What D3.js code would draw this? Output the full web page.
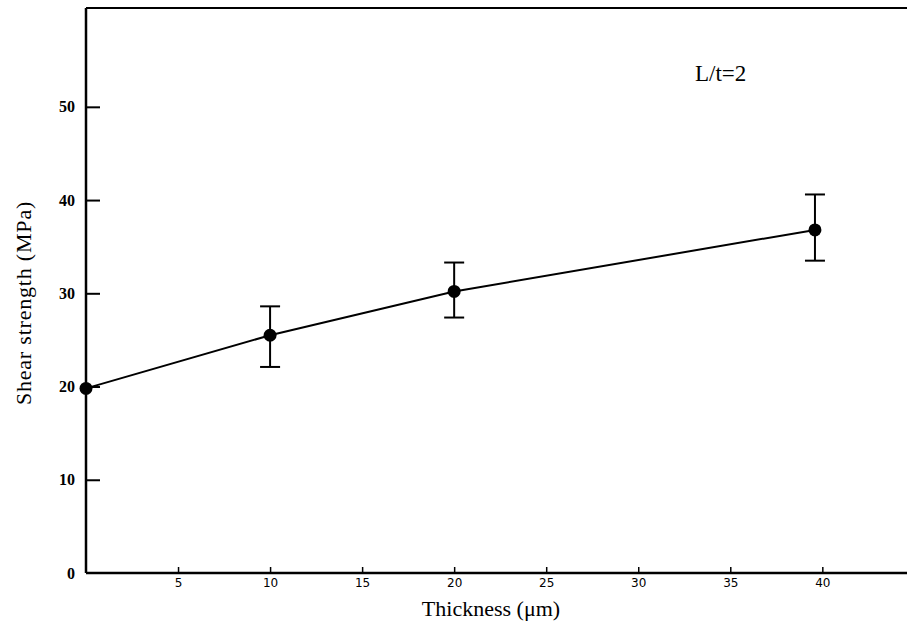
<!DOCTYPE html>
<html>
<head>
<meta charset="utf-8">
<script src="https://cdn.jsdelivr.net/npm/d3@7"></script>
<style>
  body { margin: 0; background: #fff; }
  text { fill: #000; }
</style>
</head>
<body>
<div id="chart"></div>
<script>
// values
const thickness = [0, 10, 20, 39.6];
const strength = [19.8, 25.5, 30.2, 36.8];
const errLow = [null, 22.1, 27.4, 33.5];
const errHigh = [null, 28.6, 33.3, 40.6];
const xTicks = [5, 10, 15, 20, 25, 30, 35, 40];
const yTicks = [0, 10, 20, 30, 40, 50];

const width = 907;
const height = 630;

const x = d3.scaleLinear().domain([0, 44.6]).range([86, 907]);
const y = d3.scaleLinear().domain([0, 60.6]).range([573, 8]);

const svg = d3.select("#chart")
  .append("svg")
  .attr("width", width)
  .attr("height", height);

// frame: top line + left axis + bottom axis
svg.append("line")
  .attr("x1", x(0)).attr("x2", width)
  .attr("y1", y(60.6)).attr("y2", y(60.6))
  .attr("stroke", "#000").attr("stroke-width", 2);

const yAxis = svg.append("g")
  .attr("transform", `translate(${x(0)},0)`)
  .call(d3.axisLeft(y).tickValues(yTicks).tickSize(-14).tickPadding(11)
    .tickFormat(d3.format("d")));
yAxis.select(".domain").remove();
yAxis.selectAll(".tick line")
  .attr("stroke-width", 2)
  .attr("display", d => d === 0 ? "none" : null);
yAxis.selectAll(".tick text")
  .attr("font-family", "Liberation Serif")
  .attr("font-weight", "bold")
  .attr("font-size", 16);

const xAxis = svg.append("g")
  .attr("transform", `translate(0,${y(0)})`)
  .call(d3.axisBottom(x).tickValues(xTicks).tickSize(-6).tickPadding(5));
xAxis.select(".domain").remove();
xAxis.selectAll(".tick line").attr("stroke-width", 1.5);
xAxis.selectAll(".tick text")
  .attr("font-family", "DejaVu Sans")
  .attr("font-size", 12);

svg.append("line")
  .attr("x1", x(0)).attr("x2", x(0))
  .attr("y1", y(60.6)).attr("y2", y(0))
  .attr("stroke", "#000").attr("stroke-width", 2.5);
svg.append("line")
  .attr("x1", x(0)).attr("x2", width)
  .attr("y1", y(0)).attr("y2", y(0))
  .attr("stroke", "#000").attr("stroke-width", 2.5);

// line through the points
const pts = thickness.map((t, i) => ({ t: t, s: strength[i], lo: errLow[i], hi: errHigh[i] }));

svg.append("path")
  .datum(pts)
  .attr("fill", "none")
  .attr("stroke", "#000")
  .attr("stroke-width", 2)
  .attr("d", d3.line().x(d => x(d.t)).y(d => y(d.s)));

// error bars
const bars = svg.append("g")
  .selectAll("g")
  .data(pts.filter(d => d.lo != null))
  .join("g")
  .attr("stroke", "#000")
  .attr("stroke-width", 2);
bars.append("line")
  .attr("x1", d => x(d.t)).attr("x2", d => x(d.t))
  .attr("y1", d => y(d.lo)).attr("y2", d => y(d.hi));
bars.append("line")
  .attr("x1", d => x(d.t) - 10).attr("x2", d => x(d.t) + 10)
  .attr("y1", d => y(d.hi)).attr("y2", d => y(d.hi));
bars.append("line")
  .attr("x1", d => x(d.t) - 10).attr("x2", d => x(d.t) + 10)
  .attr("y1", d => y(d.lo)).attr("y2", d => y(d.lo));

svg.append("g")
  .selectAll("circle")
  .data(pts)
  .join("circle")
  .attr("cx", d => x(d.t))
  .attr("cy", d => y(d.s))
  .attr("r", 6.5)
  .attr("fill", "#000");

// labels
svg.append("text")
  .attr("x", 491).attr("y", 616)
  .attr("text-anchor", "middle")
  .attr("font-family", "Liberation Serif")
  .attr("font-size", 22)
  .text("Thickness (μm)");

svg.append("text")
  .attr("transform", "translate(31,303) rotate(-90)")
  .attr("text-anchor", "middle")
  .attr("font-family", "Liberation Serif")
  .attr("font-size", 22)
  .attr("letter-spacing", 0.8)
  .text("Shear strength (MPa)");

svg.append("text")
  .attr("x", 695).attr("y", 81)
  .attr("font-family", "Liberation Serif")
  .attr("font-size", 23)
  .text("L/t=2");
</script>
</body>
</html>
